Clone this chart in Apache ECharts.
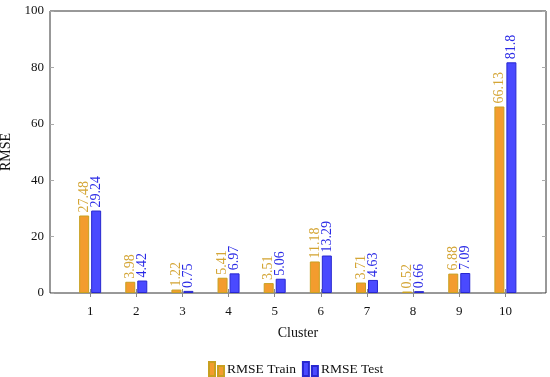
<!DOCTYPE html>
<html><head><meta charset="utf-8">
<script src="https://cdn.jsdelivr.net/npm/echarts@6/dist/echarts.min.js"></script>
<style>html,body{margin:0;padding:0;background:#fff}#c{width:550px;height:377px}</style>
</head><body><div id="c"></div>
<script>
const clusters = [1,2,3,4,5,6,7,8,9,10];
const rmseTrain = [27.48,3.98,1.22,5.41,3.51,11.18,3.71,0.52,6.88,66.13];
const rmseTest = [29.24,4.42,0.75,6.97,5.06,13.29,4.63,0.66,7.09,81.8];
const yTicks = [0,20,40,60,80,100];

const FONT = 'Liberation Serif';
const chart = echarts.init(document.getElementById('c'));
const mk = (arr) => arr.map((v,i)=>[clusters[i], v]);
const lbl = (color) => ({show:true, position:'top', rotate:90, align:'left', verticalAlign:'middle', distance:3,
  color, fontFamily:FONT, fontSize:14, formatter: p => String(p.value[1])});
chart.setOption({
  animation:false,
  grid:{left:50, top:11, right:4, bottom:84, containLabel:false, outerBoundsMode:'none',
    show:true, borderColor:'#333', borderWidth:1},
  legend:{top:356, left:203, itemWidth:15, itemHeight:14, itemGap:6,
    textStyle:{fontFamily:FONT, fontSize:13.5, color:'#111', padding:[0,0,0,-2]},
    data:[{name:'RMSE Train', icon:'path://M0,0h6v14h-6z M9,4h6v10h-6z'},
          {name:'RMSE Test', icon:'path://M0,0h6v14h-6z M9,4h6v10h-6z'}]},
  xAxis:[{type:'value', min:0.13, max:10.88, name:'Cluster', nameLocation:'middle', nameGap:33,
    nameTextStyle:{fontFamily:FONT, fontSize:14, color:'#111'},
    axisLine:{show:false}, splitLine:{show:false},
    axisTick:{show:true, customValues:clusters, length:4, lineStyle:{color:'#888'}},
    axisLabel:{customValues:clusters, fontFamily:FONT, fontSize:13, color:'#111', margin:12}},
   {type:'value', position:'top', min:0.13, max:10.88, axisLine:{show:false}, splitLine:{show:false},
    axisTick:{show:true, customValues:clusters, length:4, lineStyle:{color:'#888'}},
    axisLabel:{show:false}}],
  yAxis:[{type:'value', min:0, max:100, interval:20, name:'RMSE', nameLocation:'middle', nameGap:33,
    nameTextStyle:{fontFamily:FONT, fontSize:14, color:'#111'},
    axisLine:{show:false}, splitLine:{show:false},
    axisTick:{show:true, inside:true, length:4, lineStyle:{color:'#aaa'}},
    axisLabel:{fontFamily:FONT, fontSize:13, color:'#111', margin:6}},
   {type:'value', position:'right', min:0, max:100, interval:20, axisLine:{show:false}, splitLine:{show:false},
    axisTick:{show:true, inside:true, length:4, lineStyle:{color:'#aaa'}}, axisLabel:{show:false}}],
  series:[
    {name:'RMSE Train', type:'bar', data:mk(rmseTrain), barWidth:10, barGap:'20%',
     itemStyle:{color:'#f39c2e', borderColor:'#c8a020', borderWidth:1}, label:lbl('#d4a535')},
    {name:'RMSE Test', type:'bar', data:mk(rmseTest), barWidth:10, barGap:'20%',
     itemStyle:{color:'#4a4aff', borderColor:'#2828d0', borderWidth:1}, label:lbl('#2a2ae6')}
  ]
});
</script></body></html>
